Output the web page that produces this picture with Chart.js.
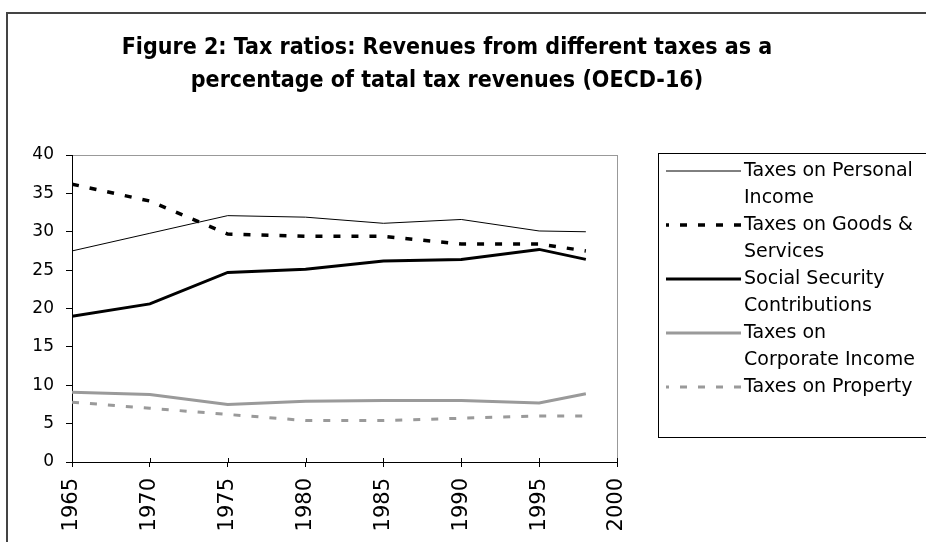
<!DOCTYPE html>
<html>
<head>
<meta charset="utf-8">
<script src="https://cdn.jsdelivr.net/npm/chart.js@4"></script>
<style>
  html, body { margin: 0; padding: 0; background: #fff; }
  #wrap { width: 926px; height: 542px; }
</style>
</head>
<body>
<div id="wrap"><canvas id="myChart" width="926" height="542"></canvas></div>
<script>
// values
const years = [1965, 1970, 1975, 1980, 1985, 1990, 1995, 1998];
const personalIncome = [27.5, 29.8, 32.1, 31.9, 31.1, 31.6, 30.1, 30.0];
const goodsServices = [36.2, 34.0, 29.7, 29.4, 29.4, 28.4, 28.4, 27.5];
const socialSecurity = [19.0, 20.6, 24.7, 25.1, 26.2, 26.4, 27.7, 26.4];
const corporateIncome = [9.1, 8.8, 7.5, 7.9, 8.0, 8.0, 7.7, 8.9];
const propertyTax = [7.8, 7.0, 6.2, 5.4, 5.4, 5.7, 6.0, 6.0];

const seriesLabels = [
  ['Taxes on Personal', 'Income'],
  ['Taxes on Goods &', 'Services'],
  ['Social Security', 'Contributions'],
  ['Taxes on', 'Corporate Income'],
  ['Taxes on Property']
];
const titleLines = [
  'Figure 2: Tax ratios: Revenues from different taxes as a',
  'percentage of tatal tax revenues (OECD-16)'
];
const yMin = 0, yMax = 40, yStep = 5;
const xMin = 1965, xMax = 2000, xStep = 5;

const GRAY = '#9a9a9a';
const FONT = '"DejaVu Sans", Verdana, sans-serif';
const toPts = vals => years.map((yr, i) => ({ x: yr, y: vals[i] }));

function series(i, vals, color, width, dash) {
  return {
    label: seriesLabels[i].join(' '),
    legendLines: seriesLabels[i],
    data: toPts(vals),
    borderColor: color,
    borderWidth: width,
    borderDash: dash,
    pointRadius: 0,
    tension: 0,
    fill: false
  };
}

// page background, outer frame, plot frame
const framePlugin = {
  id: 'frame',
  beforeDraw(chart) {
    const ctx = chart.ctx, a = chart.chartArea;
    ctx.save();
    ctx.fillStyle = '#fff';
    ctx.fillRect(0, 0, chart.width, chart.height);
    ctx.strokeStyle = '#444';
    ctx.lineWidth = 2;
    ctx.strokeRect(7, 13, 960, 560);
    ctx.strokeStyle = '#999';
    ctx.lineWidth = 1;
    ctx.strokeRect(a.left + 0.5, a.top + 0.5, a.right - a.left, a.bottom - a.top);
    ctx.restore();
  },
  // x tick marks cross the axis a little
  afterDraw(chart) {
    const ctx = chart.ctx, sx = chart.scales.x, bottom = chart.chartArea.bottom;
    ctx.save();
    ctx.strokeStyle = '#000';
    ctx.lineWidth = 1;
    sx.ticks.forEach((t, i) => {
      if (i === 0) return;
      const px = Math.round(sx.getPixelForValue(t.value)) + 0.5;
      ctx.beginPath();
      ctx.moveTo(px, bottom - 4);
      ctx.lineTo(px, bottom);
      ctx.stroke();
    });
    ctx.restore();
  }
};

const titlePlugin = {
  id: 'twoLineTitle',
  afterDraw(chart) {
    const ctx = chart.ctx;
    ctx.save();
    ctx.fillStyle = '#000';
    ctx.font = 'bold 23px "Liberation Sans Narrow", "Arial Narrow", "DejaVu Sans Condensed", sans-serif';
    ctx.textAlign = 'center';
    ctx.textBaseline = 'middle';
    titleLines.forEach((t, i) => ctx.fillText(t, 447, 48 + i * 33));
    ctx.restore();
  }
};

const legendPlugin = {
  id: 'boxLegend',
  afterDraw(chart) {
    const ctx = chart.ctx;
    ctx.save();
    ctx.strokeStyle = '#000';
    ctx.lineWidth = 1;
    ctx.strokeRect(658.5, 153.5, 400, 284);
    ctx.font = '19px ' + FONT;
    ctx.textBaseline = 'middle';
    ctx.fillStyle = '#000';
    let y = 171;
    chart.data.datasets.forEach(ds => {
      ctx.beginPath();
      ctx.setLineDash(ds.borderDash || []);
      ctx.lineWidth = ds.borderWidth;
      ctx.strokeStyle = ds.borderColor;
      ctx.moveTo(741, y);
      ctx.lineTo(666, y);
      ctx.stroke();
      ctx.setLineDash([]);
      ds.legendLines.forEach(line => {
        ctx.fillText(line, 744, y);
        y += 27;
      });
    });
    ctx.restore();
  }
};

const ctx = document.getElementById('myChart').getContext('2d');
const myChart = new Chart(ctx, {
  type: 'line',
  data: {
    datasets: [
      series(0, personalIncome, '#000', 1, []),
      series(1, goodsServices, '#000', 3.5, [7, 11]),
      series(2, socialSecurity, '#000', 3, []),
      series(3, corporateIncome, GRAY, 3, []),
      series(4, propertyTax, GRAY, 3, [7, 11])
    ]
  },
  options: {
    responsive: false,
    animation: false,
    devicePixelRatio: 1,
    layout: { padding: { left: 0, top: 155, right: 309, bottom: 0 } },
    plugins: {
      legend: { display: false },
      title: { display: false },
      tooltip: { enabled: false }
    },
    scales: {
      x: {
        type: 'linear',
        min: xMin,
        max: xMax,
        afterFit: s => { s.height = 80; },
        ticks: {
          stepSize: xStep,
          minRotation: 90,
          maxRotation: 90,
          padding: 11,
          color: '#000',
          font: { family: FONT, size: 21 },
          callback: v => String(v)
        },
        grid: { drawOnChartArea: false, drawTicks: true, tickLength: 5, color: '#000' },
        border: { color: '#000', width: 1 }
      },
      y: {
        min: yMin,
        max: yMax,
        afterFit: s => { s.width = 72; },
        ticks: {
          stepSize: yStep,
          padding: 12,
          color: '#000',
          font: { family: FONT, size: 17 }
        },
        grid: { drawOnChartArea: false, drawTicks: true, tickLength: 6, color: '#000' },
        border: { color: '#000', width: 1 }
      }
    }
  },
  plugins: [framePlugin, titlePlugin, legendPlugin]
});
</script>
</body>
</html>
